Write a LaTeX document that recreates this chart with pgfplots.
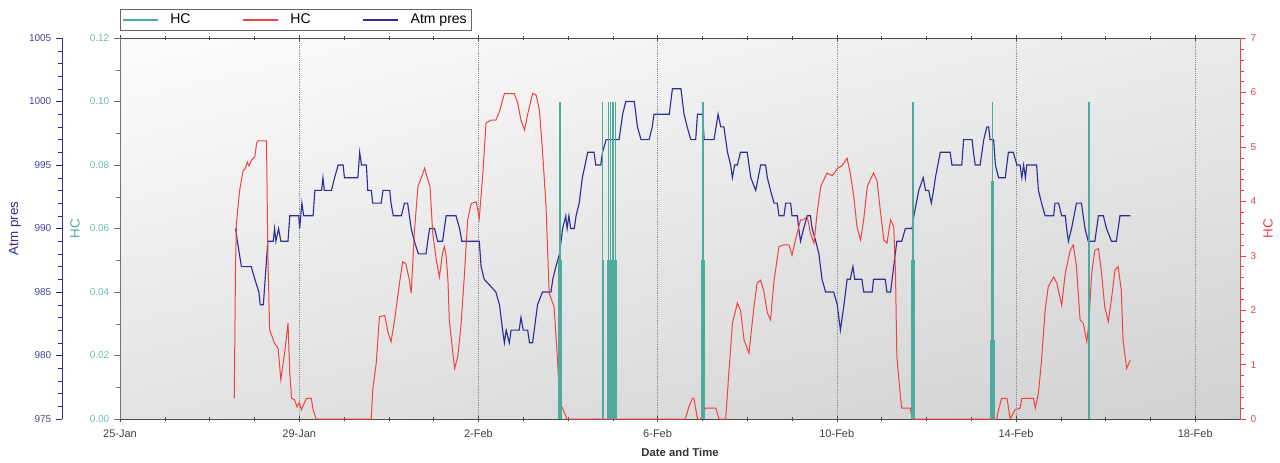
\documentclass[border=0pt]{standalone}
\usepackage{fontspec}
\setmainfont{Liberation Sans}
\usepackage{pgfplots}
\usepackage{pgfplotstable}
\pgfplotsset{compat=1.18}
\usetikzlibrary{shadings}
\definecolor{cteal}{RGB}{78,170,156}
\definecolor{ctealtxt}{RGB}{110,190,176}
\definecolor{cred}{RGB}{240,66,66}
\definecolor{cnavy}{RGB}{46,46,150}
\definecolor{cnavytxt}{RGB}{70,70,155}

% Atm pres (hPa)
\pgfplotstableread{
t p
2.58 990
2.62 989
2.71 987
2.93 987
3.01 986
3.10 985
3.13 984
3.20 984
3.24 986
3.30 989
3.42 989
3.45 990
3.48 989
3.54 990
3.59 989
3.75 989
3.79 991
3.99 991
4.01 990
4.06 992
4.10 991
4.31 991
4.35 993
4.50 993
4.53 994
4.56 993
4.72 993
4.79 994
4.87 995
4.98 995
5.01 994
5.31 994
5.35 996
5.39 995
5.50 995
5.53 993
5.61 993
5.64 992
5.83 992
5.87 993
6.02 993
6.05 992
6.10 991
6.28 991
6.35 992
6.42 992
6.50 990
6.57 989
6.66 988
6.83 988
6.91 990
7.02 990
7.09 989
7.20 989
7.28 991
7.50 991
7.58 990
7.63 989
8.02 989
8.06 987
8.13 986
8.39 985
8.47 984
8.54 982
8.58 981
8.62 982
8.69 981
8.73 982
8.91 982
8.95 983
9.00 982
9.10 982
9.14 981
9.21 981
9.32 984
9.43 985
9.62 985
9.66 986
9.73 987
9.81 988
9.88 990
9.95 991
9.98 990
10.02 991
10.06 990
10.14 990
10.18 991
10.25 992
10.32 994
10.44 996
10.58 996
10.62 995
10.73 995
10.77 996
10.85 997
11.14 997
11.22 999
11.29 1000
11.48 1000
11.55 998
11.63 997
11.81 997
11.88 998
11.92 999
12.26 999
12.33 1001
12.52 1001
12.59 999
12.66 998
12.74 997
12.85 997
12.89 999
13.00 999
13.04 997
13.26 997
13.35 999
13.41 998
13.48 998
13.56 996
13.63 995
13.67 994
13.72 995
13.78 995
13.85 996
14.00 996
14.08 994
14.19 993
14.30 995
14.41 995
14.45 994
14.52 993
14.60 992
14.67 992
14.71 991
14.82 991
14.86 992
14.97 992
15.00 991
15.12 991
15.15 990
15.19 989
15.26 990
15.34 991
15.41 991
15.45 990
15.53 989
15.60 988
15.67 986
15.75 985
15.93 985
16.01 984
16.08 982
16.16 984
16.23 986
16.30 986
16.36 987
16.40 986
16.56 986
16.60 985
16.79 985
16.82 986
17.08 986
17.12 985
17.20 985
17.27 987
17.34 989
17.45 989
17.53 990
17.68 990
17.72 991
17.83 993
17.93 994
17.98 993
18.05 993
18.11 992
18.16 993
18.20 994
18.31 996
18.53 996
18.57 995
18.79 995
18.83 997
19.02 997
19.05 996
19.09 995
19.20 995
19.28 997
19.35 998
19.39 998
19.42 997
19.50 997
19.54 995
19.61 994
19.76 994
19.83 996
19.94 996
20.02 995
20.09 995
20.13 994
20.17 995
20.21 994
20.24 995
20.46 995
20.50 993
20.57 992
20.65 991
20.84 991
20.87 992
20.95 992
21.02 991
21.10 991
21.13 990
21.17 989
21.24 990
21.35 992
21.46 992
21.54 990
21.61 989
21.76 989
21.84 991
21.95 991
22.02 990
22.13 989
22.24 989
22.32 991
22.55 991
}\atmtab

% HC (right axis)
\pgfplotstableread{
t hc
2.55 0.38
2.58 2.9
2.60 3.6
2.64 3.95
2.67 4.2
2.75 4.57
2.80 4.6
2.84 4.72
2.88 4.65
2.93 4.75
3.01 4.82
3.05 5.07
3.08 5.11
3.27 5.11
3.30 3.05
3.34 1.64
3.45 1.39
3.53 1.30
3.59 0.72
3.68 1.25
3.75 1.76
3.79 0.84
3.83 0.38
3.90 0.35
3.95 0.22
4.00 0.30
4.05 0.17
4.16 0.38
4.27 0.38
4.31 0.17
4.38 0
5.61 0
5.64 0.53
5.72 1.03
5.79 1.88
5.91 1.9
5.98 1.60
6.05 1.42
6.13 1.82
6.24 2.50
6.31 2.89
6.38 2.85
6.46 2.55
6.50 2.31
6.57 3.42
6.65 4.27
6.72 4.42
6.80 4.61
6.87 4.40
6.92 4.27
6.98 3.42
7.06 2.92
7.13 2.61
7.20 3.05
7.24 3.17
7.28 3.0
7.32 2.55
7.35 1.82
7.43 1.21
7.47 0.93
7.54 1.15
7.61 1.70
7.69 2.68
7.76 3.66
7.84 3.96
7.95 3.99
8.02 3.69
8.10 4.52
8.17 5.44
8.28 5.49
8.39 5.49
8.47 5.65
8.58 5.98
8.80 5.98
8.88 5.80
8.95 5.49
9.03 5.31
9.10 5.6
9.21 5.98
9.29 5.95
9.36 5.68
9.43 4.94
9.51 3.90
9.58 2.31
9.69 2.06
9.77 1.03
9.81 0.29
9.88 0.20
9.95 0.05
9.97 0
12.62 0
12.70 0.23
12.78 0.38
12.81 0.38
12.89 0
12.96 0
13.07 0.2
13.30 0.2
13.37 0
13.52 0
13.59 0.84
13.67 1.76
13.78 2.13
13.85 2.0
13.93 1.45
14.04 1.21
14.15 2.06
14.22 2.50
14.30 2.55
14.37 2.35
14.45 1.95
14.52 1.82
14.60 2.55
14.71 3.17
14.82 3.2
14.93 3.2
15.00 3.01
15.08 3.3
15.19 3.66
15.26 3.66
15.34 3.72
15.41 3.42
15.49 3.23
15.56 3.78
15.64 4.27
15.78 4.52
15.90 4.47
16.01 4.6
16.12 4.66
16.23 4.79
16.30 4.52
16.38 4.08
16.45 3.53
16.53 3.29
16.60 3.66
16.68 4.27
16.75 4.40
16.82 4.52
16.90 4.37
16.97 3.84
17.05 3.29
17.12 3.23
17.20 3.66
17.27 3.54
17.31 2.68
17.34 1.15
17.42 0.41
17.45 0.20
17.64 0.20
17.68 0
19.57 0
19.61 0.17
19.68 0.38
19.80 0.38
19.87 0
19.98 0.17
20.09 0.2
20.13 0.38
20.39 0.38
20.43 0.2
20.50 0.47
20.57 1.08
20.65 2.0
20.72 2.43
20.84 2.61
20.91 2.5
21.02 2.09
21.10 2.68
21.21 3.10
21.28 3.2
21.35 2.8
21.43 1.82
21.50 1.76
21.58 1.42
21.62 1.70
21.69 2.68
21.76 3.10
21.84 3.13
21.91 2.68
21.98 2.06
22.06 1.79
22.13 2.2
22.21 2.74
22.28 2.80
22.35 2.37
22.39 1.45
22.47 0.93
22.55 1.08
}\hctab

\pgfplotsset{
  base/.style={scale only axis, width=840pt, height=285.75pt, xmin=0, xmax=25,
    tick label style={font=\fontsize{7.5}{9}\selectfont},
    /pgf/number format/assume math mode=true, /pgf/number format/1000 sep={},
    label style={font=\fontsize{8.5}{10}\selectfont\bfseries},
    major tick length=4.5pt, minor tick length=3pt},
}

\begin{document}
\begin{tikzpicture}
\useasboundingbox (-90pt,-32.25pt) rectangle (870pt,314.25pt);

% main frame: dates, teal HC scale, background, legend
\begin{axis}[base, ymin=0, ymax=0.12,
  axis x line*=box, axis y line*=left,
  axis background/.style={shade, upper left=black!1, upper right=black!8, lower left=black!11, lower right=black!18},
  xtick={0,4,...,24}, xticklabels={25-Jan,29-Jan,2-Feb,6-Feb,10-Feb,14-Feb,18-Feb},
  minor x tick num=3, xmajorgrids, grid style={densely dotted, black!45},
  x tick label style={font=\fontsize{8.25}{10}\selectfont, black!75, yshift=-2pt},
  xtick align=center, ytick align=outside,
  x axis line style={black!70}, y axis line style={black!55},
  xtick style={black!70}, ytick style={black!55},
  ytick={0,0.02,...,0.12}, minor y tick num=1,
  yticklabel style={ctealtxt, /pgf/number format/.cd, fixed, fixed zerofill, precision=2},
  xlabel={Date and Time}, xlabel style={at={(axis description cs:0.5,-0.087)}, anchor=center, black!80},
  ylabel={HC}, every axis y label/.style={at={(axis description cs:-0.0402,0.5)}, rotate=90, anchor=center, cteal},
  legend columns=3,
  legend style={at={(axis description cs:0,1)}, anchor=south west, yshift=5.5pt, draw=black!60, fill=white,
    font=\fontsize{10.5}{12}\selectfont, inner sep=1.5pt, row sep=0pt,
    /tikz/every odd column/.append style={column sep=7pt},
    /tikz/every even column/.append style={column sep=37pt}},
  legend image code/.code={\draw[#1] (0pt,0pt) -- (26pt,0pt);},
]
\addlegendimage{cteal, line width=1pt}\addlegendentry{HC}
\addlegendimage{cred, line width=1pt}\addlegendentry{HC}
\addlegendimage{cnavy, line width=1pt}\addlegendentry{Atm pres}
\end{axis}

% Atm pres on the outer left scale
\begin{axis}[base, at={(-43.5pt,0pt)}, width=883.5pt, xmin=-1.29464, xmax=25,
  ymin=975, ymax=1005, axis x line=none, axis y line*=left, tick align=outside,
  ytick={975,980,...,1005}, minor y tick num=4,
  y axis line style={cnavy}, ytick style={cnavy}, yticklabel style={cnavytxt},
  ylabel={Atm pres}, every axis y label/.style={at={(axis description cs:-0.0399,0.5)}, rotate=90, anchor=center, cnavy},
]
\addplot[cnavy, line width=0.85pt] table[x=t, y=p] {\atmtab};
\end{axis}

% HC on the right scale
\begin{axis}[base, ymin=0, ymax=7, axis x line=none, axis y line*=right, tick align=outside,
  ytick={0,1,...,7}, minor y tick num=4,
  y axis line style={cred}, ytick style={cred}, yticklabel style={cred},
  ylabel={HC}, every axis y label/.style={at={(axis description cs:1.025,0.5)}, rotate=90, anchor=center, cred},
]
\addplot[cred, line width=0.75pt] table[x=t, y=hc] {\hctab};
\end{axis}

% HC on the inner left scale (0-0.12)
\begin{axis}[base, ymin=0, ymax=0.12, hide axis]
\addplot[cteal, line width=1.1pt, ycomb] coordinates {
(9.80,0.05) (9.82,0.1) (9.84,0.05)
(10.77,0.1) (10.79,0.05)
(10.88,0.05) (10.90,0.1) (10.925,0.05) (10.95,0.1) (10.975,0.05) (11.00,0.1) (11.025,0.05) (11.045,0.05) (11.065,0.1) (11.085,0.05)
(12.995,0.05) (13.015,0.1) (13.035,0.05)
(17.68,0.05) (17.70,0.1) (17.72,0.05)
(19.46,0.075) (19.48,0.1) (19.50,0.075) (19.445,0.025) (19.515,0.025)
(21.63,0.1) (21.645,0.05)
};
\end{axis}
\end{tikzpicture}
\end{document}
